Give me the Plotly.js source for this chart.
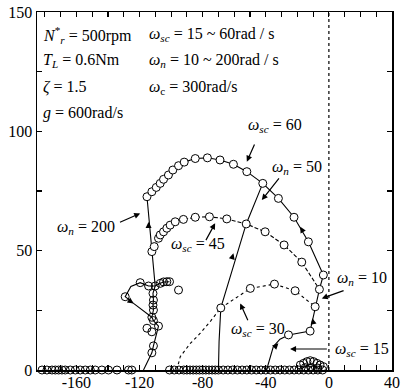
<!DOCTYPE html>
<html>
<head>
<meta charset="utf-8">
<script src="https://cdn.plot.ly/plotly-3.0.1.min.js"></script>
<style>html,body{margin:0;padding:0;background:#fff;}#chart{width:404px;height:392px;}</style>
</head>
<body>
<div id="chart"></div>
<script>
// ---------- data ----------
// omega_sc = 60 locus (circles, solid line)
const sc60X = [-115.3,-112.2,-109.4,-106.9,-104.8,-101.7,-98.9,-95.3,-91.7,-84.7,-77.0,-69.0,-60.5,-52.0,-41.9,-32.0,-22.1,-13.0,-3.5];
const sc60Y = [72.6,74.7,76.5,78.2,79.9,81.7,83.8,85.6,87.1,88.6,88.9,88.0,86.2,83.1,78.2,71.9,64.0,53.7,39.8];
// omega_sc = 45 locus (circles, dashed line)
const sc45X = [-112.2,-110.7,-108.0,-106.9,-104.8,-102.7,-100.6,-97.4,-92.2,-84.7,-75.7,-64.7,-52.4,-40.4,-28.4,-17.2,-6.0];
const sc45Y = [49.6,51.7,55.2,56.6,57.9,59.4,60.7,62.1,63.1,64.0,64.2,63.3,61.2,57.9,52.4,45.2,33.8];
// omega_sc = 30 locus (circles, dotted line) and its dotted tail to the real axis
const sc30X = [-68.5,-49.8,-34.5,-21.4,-8.7];
const sc30Y = [26.0,34.2,36.0,33.2,26.5];
const sc30TailX = [-96.4,-94.2,-88.0,-81.5,-75.0,-68.5];
const sc30TailY = [0,5.6,11.0,15.4,20.5,26.0];
// iso omega_n lines
const n10X = [-39.5,-37.5,-35.2,-31.0,-25.6,-11.9,-8.7,-6.0,-3.5];
const n10Y = [0,5.0,9.8,12.9,14.7,16.3,26.5,33.8,39.8];
const n10CircX = [-25.6,-11.9];
const n10CircY = [14.7,16.3];
const n50X = [-70.0,-69.6,-68.5,-59.3,-52.4,-41.9];
const n50Y = [0,12.0,26.0,46.0,61.2,78.2];
const n200X = [-117.5,-112.2,-111.2,-108.0,-111.2,-112.2,-111.2,-111.5,-111.2,-111.5,-110.1,-112.2,-115.3];
const n200Y = [0,7.2,10.1,18.4,20.7,22.1,25.1,27.2,29.3,32.1,35.2,49.6,72.6];
// loop in the lower-left cluster
const loopX = [-101.0,-102.7,-104.8,-106.9,-110.1,-114.3,-119.6,-125.5,-129.1,-123.8,-117.0,-112.2];
const loopY = [37.0,37.0,36.9,36.3,35.2,35.2,36.6,35.0,30.7,27.9,24.4,22.1];
// cluster circles
const clusterX = [-119.6,-114.3,-110.1,-106.9,-104.8,-102.7,-101.0,-95.3,-129.1,-111.5,-111.2,-111.5,-111.2,-112.2,-111.2,-115.3,-112.2,-108.0,-111.2,-112.2];
const clusterY = [36.6,35.2,35.2,36.3,36.9,37.0,37.0,33.5,30.7,32.1,29.3,27.2,25.1,22.1,20.7,17.5,16.0,18.4,10.1,7.2];
// real-axis poles
const realX = [-181.8,-178.7,-175.5,-173.4,-171.3,-169.2,-167.1,-163.9,-160.7,-157.6,-154.4,-151.2,-148.1,-143.9,-139.7,-134.3,-127.0,-124.9,
  -101,-98,-95,-92,-90,-88,-86,-84,-82,-80,-78,-76,-74,-72,-70,-67,-64,-61,-58,-55,-52,-49,-46,-43,-40,-37,-34,-31,-28,-25,-22,-19,-16,-13,-10,-7,-4];
const realY = [0,0,0,0,0,0,0,0,0,0,0,0,0,0,0,0,0,0,
  0,0,0,0,0,0,0,0,0,0,0,0,0,0,0,0,0,0,0,0,0,0,0,0,0,0,0,0,0,0,0,0,0,0,0,0,0];
// omega_sc = 15 cluster near the origin
const sc15X = [-18.1,-16.0,-13.9,-11.8,-9.7,-7.6,-5.6,-3.5,-15.0,-11.0,-7.0];
const sc15Y = [2.1,2.8,3.5,3.9,3.5,2.8,2.1,1.4,1.0,1.0,0.8];
// axis tick labels
const xTickVals = [-160,-120,-80,-40,0,40];
const xTickText = ['-160','-120','-80','-40','0','40'];
const yTickVals = [0,50,100,150];
const yTickText = ['0','50','100','150'];

// ---------- styles ----------
const FONT = 'Times New Roman';
const lineTrace = (x, y, dash) => ({x, y, type:'scatter', mode:'lines', line:{color:'#000', width:1.1, dash:dash||'solid'}, hoverinfo:'skip', cliponaxis:false});
const circTrace = (x, y, fill) => ({x, y, type:'scatter', mode:'markers', cliponaxis:false, hoverinfo:'skip',
  marker:{symbol:'circle', size:8, color:fill, line:{color:'#000', width:1}}});

const data = [
  lineTrace(sc30TailX, sc30TailY, 'dot'),
  lineTrace(sc30X, sc30Y, 'dot'),
  lineTrace(sc45X, sc45Y, '4px,2px'),
  lineTrace(sc60X, sc60Y),
  lineTrace(n10X, n10Y),
  lineTrace(n50X, n50Y),
  lineTrace(n200X, n200Y),
  lineTrace(loopX, loopY),
  circTrace(realX, realY, 'rgba(255,255,255,0)'),
  circTrace(sc15X, sc15Y, 'rgba(255,255,255,0)'),
  circTrace(clusterX, clusterY, 'rgba(255,255,255,0)'),
  circTrace(sc30X, sc30Y, '#fff'),
  circTrace(sc45X, sc45Y, '#fff'),
  circTrace(sc60X, sc60Y, '#fff'),
  circTrace(n10CircX, n10CircY, '#fff')
];

const w = (s) => '<i>ω</i><sub><i>' + s + '</i></sub>';
const labels = [
  {t:'<i>N</i><sup>*</sup><sub><i>r</i></sub> = 500rpm', x:-182.5, y:140.5, a:'left'},
  {t:'<i>T</i><sub><i>L</i></sub> = 0.6Nm', x:-182.5, y:129.5, a:'left'},
  {t:'<i>ζ</i> = 1.5', x:-182.5, y:118.5, a:'left'},
  {t:'<i>g</i> = 600rad/s', x:-182.5, y:107.5, a:'left'},
  {t:w('sc') + ' = 15 ~ 60rad / s', x:-115.3, y:140.5, a:'left'},
  {t:w('n') + ' = 10 ~ 200rad / s', x:-115.3, y:129.5, a:'left'},
  {t:'<i>ω</i><sub>c</sub> = 300rad/s', x:-115.3, y:118.5, a:'left'},
  {t:w('sc') + ' = 60', x:-34.1, y:102.6, a:'center'},
  {t:w('n') + ' = 50', x:-20.3, y:85.0, a:'center'},
  {t:w('sc') + ' = 45', x:-82.7, y:52.4, a:'center'},
  {t:w('n') + ' = 200', x:-153.8, y:59.5, a:'center'},
  {t:w('n') + ' = 10', x:21.0, y:38.5, a:'center'},
  {t:w('sc') + ' = 30', x:-44.8, y:16.8, a:'center'},
  {t:w('sc') + ' = 15', x:21.0, y:8.8, a:'center'}
];
const arrows = [
  {x:-52.0, y:87.3, ax:8.3, ay:-18.7},
  {x:-42.5, y:71.2, ax:18.3, ay:-23.3},
  {x:-72.1, y:61.5, ax:-10, ay:18.4},
  {x:-119.6, y:65.6, ax:-21.7, ay:9.4},
  {x:-4.5, y:30.0, ax:23.3, ay:-8.3},
  {x:-56.2, y:27.9, ax:8.3, ay:18.4},
  {x:-24.6, y:8.8, ax:38.3, ay:0},
  {x:-114.3, y:62.0, ax:0, ay:7},
  {x:-18.2, y:60.0, ax:3.5, ay:6},
  {x:-10.5, y:21.7, ax:1.5, ay:7},
  {x:-60.5, y:48.9, ax:-2, ay:7},
  {x:-32.0, y:11.2, ax:-5, ay:5},
  {x:-123.8, y:27.9, ax:-6, ay:-4}
];
const annotations = labels.map(l => ({text:l.t, x:l.x, y:l.y, xref:'x', yref:'y', xanchor:l.a, yanchor:'middle',
  showarrow:false, font:{family:FONT, size:16, color:'#000'}}))
  .concat(arrows.map(a => ({text:'', x:a.x, y:a.y, xref:'x', yref:'y', ax:a.ax, ay:a.ay, showarrow:true,
  arrowhead:2, arrowsize:1, arrowwidth:1.2, arrowcolor:'#000', standoff:0, startstandoff:0})));

const axisCommon = {showgrid:false, zeroline:false, showline:true, linecolor:'#000', linewidth:1.5,
  ticks:'inside', ticklen:5, tickwidth:1.2, tickcolor:'#000', mirror:'ticks',
  tickfont:{family:FONT, size:16, color:'#000'}, tickmode:'array', fixedrange:true};

const layout = {
  width:404, height:392,
  margin:{l:37, r:12, t:12, b:22, pad:0},
  paper_bgcolor:'#fff', plot_bgcolor:'#fff',
  showlegend:false,
  font:{family:FONT},
  xaxis:Object.assign({}, axisCommon, {range:[-185,40], tickvals:xTickVals, ticktext:xTickText, ticklabelstandoff:-3,
    minor:{tick0:0, dtick:10, ticks:'inside', ticklen:5, tickwidth:1.2, tickcolor:'#000'}}),
  yaxis:Object.assign({}, axisCommon, {range:[0,150], tickvals:yTickVals, ticktext:yTickText,
    minor:{tick0:0, dtick:25, ticks:'inside', ticklen:5, tickwidth:1.2, tickcolor:'#000'}}),
  shapes:[{type:'line', xref:'x', yref:'y', x0:0, x1:0, y0:0, y1:150, line:{color:'#000', width:1.2, dash:'dot'}}],
  annotations
};
Plotly.newPlot('chart', data, layout, {staticPlot:true, displayModeBar:false});
</script>
</body>
</html>
